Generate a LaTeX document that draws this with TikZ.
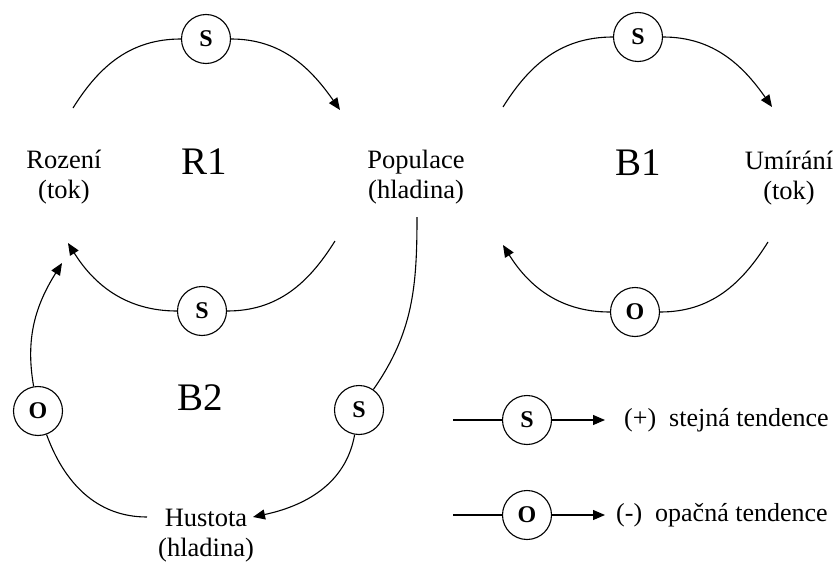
\documentclass[tikz,border=0pt]{standalone}
\usepackage{fontspec}
\setmainfont{Liberation Serif}
\usetikzlibrary{arrows.meta}
\begin{document}
\begin{tikzpicture}[x=1pt,y=1pt,
  link/.style={line width=1.1pt},
  tip/.style={-{Triangle[length=12pt,width=10pt]}},
  pol/.style={circle,draw,line width=1.1pt,minimum size=49pt,inner sep=0pt,
              font=\fontsize{24}{24}\selectfont\bfseries},
  lbl/.style={align=center,inner sep=0pt,font=\fontsize{26.5}{30}\selectfont},
  loopname/.style={inner sep=0pt,font=\fontsize{39}{39}\selectfont},
  legtext/.style={anchor=west,inner sep=0pt,font=\fontsize{26}{26}\selectfont}]
\useasboundingbox (0,-562) rectangle (836,0);

% variables
\node[lbl] (roz) at (64,-177) {Rození\\(tok)};
\node[lbl] (pop) at (416,-177) {Populace\\(hladina)};
\node[lbl] (umi) at (789,-178) {Umírání\\(tok)};
\node[lbl] (hus) at (206,-536) {Hustota\\(hladina)};

% loop names
\node[loopname] (r1) at (204,-162) {R1};
\node[loopname] (b1) at (638,-163) {B1};
\node[loopname] (b2) at (200,-398) {B2};

% polarity circles
\node[pol] (s1) at (206,-39) {S};
\node[pol] (s2) at (202,-311) {S};
\node[pol] (s3) at (638,-37) {S};
\node[pol] (o1) at (635,-312) {O};
\node[pol] (s4) at (359,-410) {S};
\node[pol] (o2) at (38,-411) {O};

% connector end points
\coordinate (r1a) at (73,-108);
\coordinate (r1b) at (340,-110);
\coordinate (r1c) at (335,-241);
\coordinate (r1d) at (68,-243);
\coordinate (b1a) at (503,-107);
\coordinate (b1b) at (772,-107);
\coordinate (b1c) at (768,-242);
\coordinate (b1d) at (503,-245);
\coordinate (popB) at (417,-217);
\coordinate (husR) at (253,-517);
\coordinate (husL) at (147,-517);
\coordinate (rozB) at (62,-263);

% loop R1
\draw[link] (r1a) to[out=58,in=180] (s1);
\draw[link,tip] (s1) to[out=0,in=125] (r1b);
\draw[link] (r1c) to[out=-122,in=0] (s2);
\draw[link,tip] (s2) to[out=180,in=-58] (r1d);

% loop B1
\draw[link] (b1a) to[out=58,in=180] (s3);
\draw[link,tip] (s3) to[out=0,in=125] (b1b);
\draw[link] (b1c) to[out=-122,in=0] (o1);
\draw[link,tip] (o1) to[out=180,in=-58] (b1d);

% loop B2
\draw[link] (popB) to[out=-90,in=55] (s4);
\draw[link,tip] (s4) to[out=-100,in=12] (husR);
\draw[link] (husL) to[out=180,in=-70] (o2);
\draw[link,tip] (o2) to[out=100,in=-122] (rozB);

% legend
\coordinate (la1) at (453,-420);
\coordinate (la2) at (605,-420);
\node[pol] (ls) at (527,-420) {S};
\draw[link] (la1) -- (ls);
\draw[link,tip] (ls) -- (la2);
\node[legtext] (lt1) at (624,-420) {(+)\ \ stejná tendence};

\coordinate (lb1) at (453,-515);
\coordinate (lb2) at (605,-515);
\node[pol] (lo) at (527,-515) {O};
\draw[link] (lb1) -- (lo);
\draw[link,tip] (lo) -- (lb2);
\node[legtext] (lt2) at (616,-515) {(-)\ \ opačná tendence};
\end{tikzpicture}
\end{document}
